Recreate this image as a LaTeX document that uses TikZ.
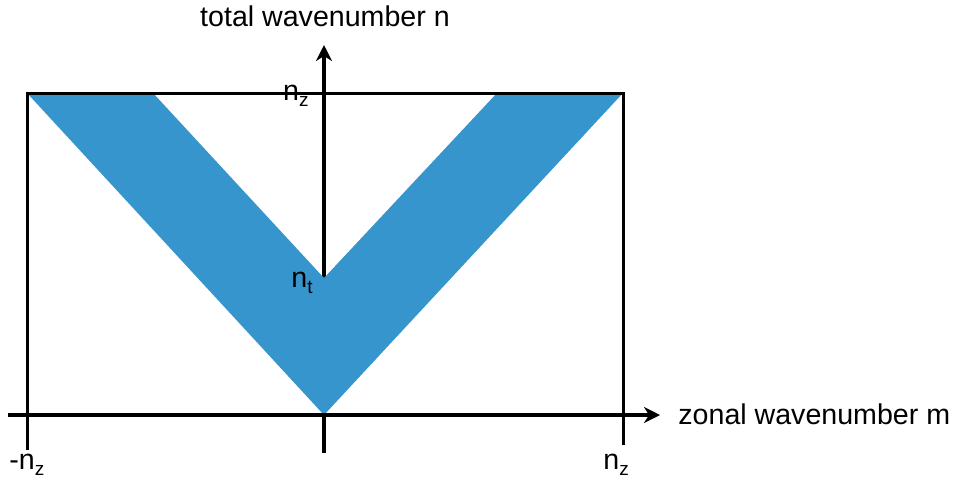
\documentclass[tikz,border=0pt]{standalone}
\usepackage{fontspec}
\setmainfont{Liberation Sans}
\usetikzlibrary{arrows.meta}
\definecolor{bandblue}{RGB}{53,149,204}
\newcommand{\lowsub}[1]{\raisebox{-3pt}{\fontsize{9.5}{10}\selectfont #1}}
\begin{document}
\begin{tikzpicture}[
    x=0.5pt, y=-0.5pt,
    every node/.style={font=\fontsize{14.3}{17}\selectfont, inner sep=0pt},
    axis/.style={line width=1.8pt, -{Stealth[length=8pt,width=8pt,inset=2.5pt]}},
    frame/.style={line width=1.5pt},
    band/.style={fill=bandblue}
]
\useasboundingbox (0,0) rectangle (954,479);

% punkty
\coordinate (O) at (324,415);
\coordinate (Obot) at (324,453);
\coordinate (Ntop) at (324,45);
\coordinate (Mleft) at (8,415);
\coordinate (Mright) at (660,415);
\coordinate (TL) at (27,93);
\coordinate (TR) at (623,93);
\coordinate (BL) at (27,450);
\coordinate (BR) at (623,445);
\coordinate (Nt) at (324,278);
\coordinate (IL) at (153,93);
\coordinate (IR) at (497,93);

% svisla osa
\draw[axis] (Obot) -- (Ntop);

% pas
\fill[band] (TL) -- (IL) -- (Nt) -- (IR) -- (TR) -- (O) -- cycle;

% ramecek
\draw[frame] (BL) -- (TL) -- (TR) -- (BR);

% vodorovna osa
\draw[axis] (Mleft) -- (Mright);

% popisky
\node[anchor=base] (ntitle) at (325,26) {total wavenumber n};
\node[anchor=base west] (mtitle) at (678,424) {zonal wavenumber m};
\node[anchor=base east] (nztop) at (309,100) {n\lowsub{z}};
\node[anchor=base east] (nt) at (313,287) {n\lowsub{t}};
\node[anchor=base west] (nzleft) at (9,469) {-n\lowsub{z}};
\node[anchor=base west] (nzright) at (603,469) {n\lowsub{z}};

\end{tikzpicture}
\end{document}
